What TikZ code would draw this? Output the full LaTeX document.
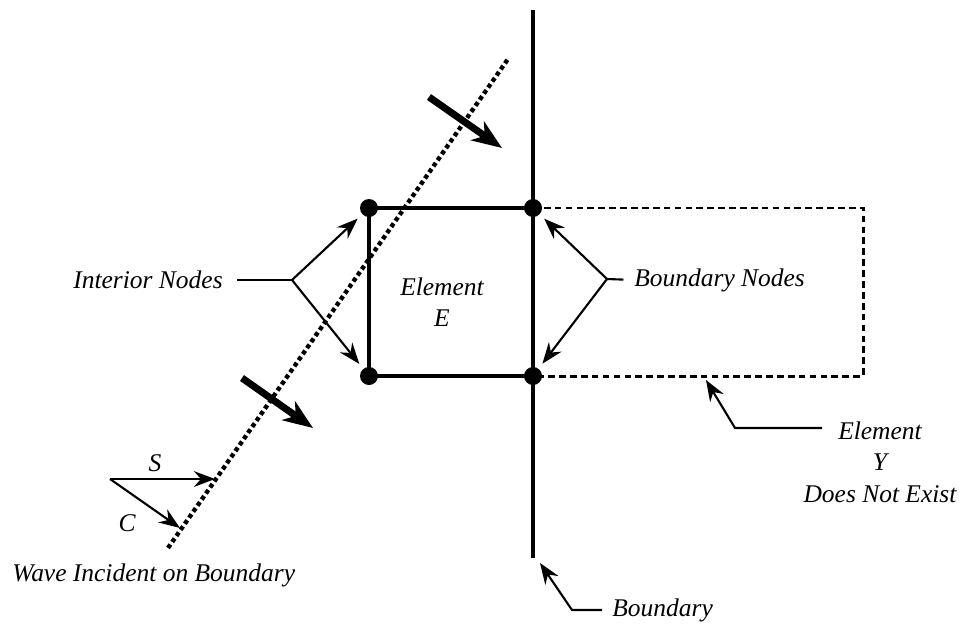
\documentclass[tikz,border=0pt]{standalone}
\usepackage{fontspec}
\setmainfont{Liberation Serif}
\usetikzlibrary{arrows.meta}

\tikzset{
	dot/.style={circle, fill=black, inner sep=0pt, minimum size=18*0.02cm},
	lbl/.style={inner sep=0pt, font=\fontsize{14.5}{18}\selectfont\itshape},
	ptr/.style={line width=1.2pt, -{Stealth[length=12pt,width=9pt,inset=4pt]}},
	push/.style={line width=4pt, -{Stealth[length=17pt,width=13pt,inset=5pt]}},
}

\begin{document}
\begin{tikzpicture}[x=0.02cm, y=-0.02cm] % pixel grid
		\useasboundingbox (0,0) rectangle (962,629);

		% nodes of element E
		\node[dot] (i1) at (369,208) {};
		\node[dot] (i2) at (369,376) {};
		\node[dot] (b1) at (533,208) {};
		\node[dot] (b2) at (533,376) {};

		\coordinate (btop) at (533,10);
		\coordinate (bbot) at (533,558);
		\coordinate (y1) at (863,208);
		\coordinate (y2) at (863,376);

		\draw[line width=2.4pt] (btop) -- (bbot);
		\draw[line width=1.8pt] (i1.center) -- (b1.center) -- (b2.center) -- (i2.center) -- cycle;
		\draw[line width=1.7pt, dash pattern=on 3.8pt off 2.4pt] (b1.center) -- (y1) -- (y2) -- (b2.center);

		% incident wave
		\coordinate (wv0) at (168,548);
		\coordinate (wv1) at (508,59);
		\draw[line width=2.5pt, dash pattern=on 2.4pt off 1.8pt] (wv0) -- (wv1);

		\coordinate (w1a) at (429,97);
		\coordinate (w1b) at (502,148);
		\coordinate (w2a) at (242,378);
		\coordinate (w2b) at (313,428);
		\draw[push] (w1a) -- (w1b);
		\draw[push] (w2a) -- (w2b);

		\coordinate (sc0) at (110,479);
		\coordinate (stip) at (215,479);
		\coordinate (ctip) at (180,528);
		\draw[ptr] (sc0) -- (stip);
		\draw[ptr] (sc0) -- (ctip);
		\node[lbl] (slbl) at (155,463) {S};
		\node[lbl] (clbl) at (127,523) {C};

		\node[lbl, anchor=west] (wtxt) at (12,575) {Wave Incident on Boundary};

		% labels
		\node[lbl, align=center] (etxt) at (442,302) {Element\\E};

		\node[lbl, anchor=west] (intxt) at (73,280) {Interior Nodes};
		\coordinate (ibr) at (292,280);
		\draw[line width=1.2pt, shorten <=8pt] (intxt.east) -- (ibr);
		\draw[ptr, shorten >=3.5pt] (ibr) -- (i1);
		\draw[ptr, shorten >=3.5pt] (ibr) -- (i2);

		\node[lbl, anchor=west] (bntxt) at (634,280) {Boundary Nodes};
		\coordinate (bbr) at (607,279);
		\draw[line width=1.2pt, shorten <=6pt] (bntxt.west) -- (bbr);
		\draw[ptr, shorten >=3.5pt] (bbr) -- (b1);
		\draw[ptr, shorten >=3.5pt] (bbr) -- (b2);

		\node[lbl, align=center] (ytxt) at (880,462) {Element\\Y\\Does Not Exist};
		\coordinate (yend) at (822,428);
		\coordinate (ycor) at (735,428);
		\coordinate (ytip) at (706,380);
		\draw[ptr] (yend) -- (ycor) -- (ytip);

		\node[lbl, anchor=west] (bdtxt) at (612,610) {Boundary};
		\coordinate (bdend) at (602,610);
		\coordinate (bdcor) at (572,610);
		\coordinate (bdtip) at (540,563);
		\draw[ptr] (bdend) -- (bdcor) -- (bdtip);
\end{tikzpicture}
\end{document}
